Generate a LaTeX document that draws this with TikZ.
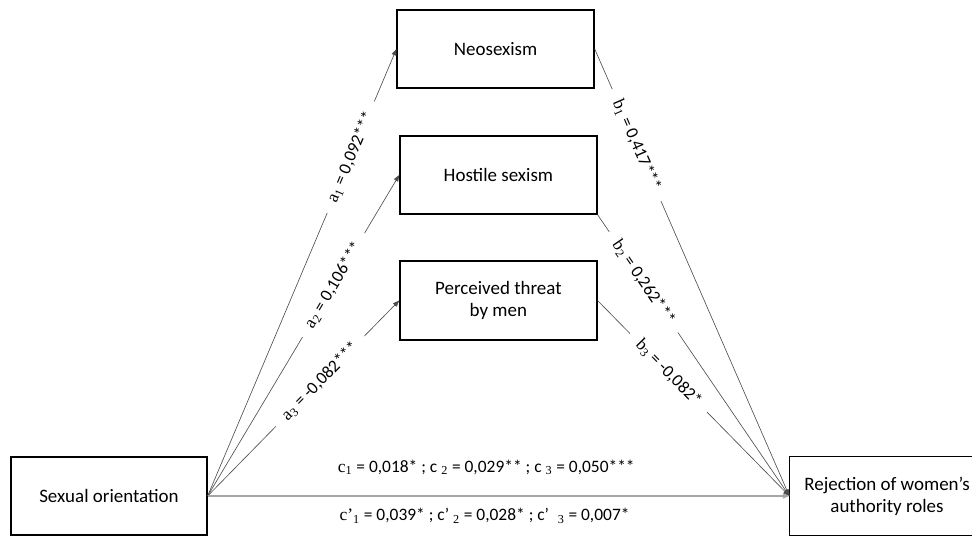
\documentclass[tikz,border=0pt]{standalone}
\usepackage{fontspec}
\setmainfont{Carlito}
\newfontfamily\tnr{Liberation Serif}
\usetikzlibrary{arrows.meta}
\definecolor{pathline}{HTML}{4D4D4D}
\definecolor{directline}{HTML}{A6A6A6}

\begin{document}
\begin{tikzpicture}[
    every node/.style={font=\fontsize{12.4}{14}\selectfont},
    varbox/.style={draw, line width=0.9pt, minimum width=4.925cm, minimum height=1.95cm,
      align=center, font=\fontsize{13.5}{15.6}\selectfont},
    pathArrow/.style={-{Triangle[length=0.16cm, width=0.12cm]}, draw=pathline, line width=0.45pt},
    coefLabel/.style={sloped, fill=white, inner xsep=0.3cm, inner ysep=0.04cm}
  ]
    \useasboundingbox (0,0) rectangle (24.3,13.4);
    \node[varbox] (neo) at (12.39, 12.175) {Neosexism};
    \node[varbox] (hos) at (12.46, 9.025) {Hostile sexism};
    \node[varbox, minimum height=1.975cm] (thr) at (12.46, 5.8875) {Perceived threat\\by men};
    \node[varbox, minimum width=4.9cm] (so) at (2.725, 1.0) {Sexual orientation};
    \node[varbox, draw=none, minimum width=4.85cm] (rej) at (22.175, 1.0) {Rejection of women’s\\authority roles};
    \draw[line width=0.9pt] ([xshift=6cm]rej.north west) -- (rej.north west)
      -- (rej.south west) -- ++(6cm,0);
    \draw[pathArrow] (so.east) -- (neo.west);
    \draw[pathArrow] (so.east) -- (hos.west);
    \draw[pathArrow] (so.east) -- (thr.west);
    \draw[pathArrow] (neo.east) -- (rej.west);
    \draw[pathArrow] (hos.south east) -- (rej.west);
    \draw[pathArrow] (thr.east) -- (rej.west);
    \draw[pathArrow, draw=directline, line width=0.9pt] (so.east) -- (rej.west);
    \path (so.east) -- (neo.west)
      node[coefLabel, pos=0.758] {{\tnr a\textsubscript{1}} = 0,092***};
    \path (so.east) -- (hos.west)
      node[coefLabel, pos=0.657] {{\tnr a\textsubscript{2}} = 0,106***};
    \path (so.east) -- (thr.west)
      node[coefLabel, pos=0.587] {{\tnr a\textsubscript{3}} = -0,082***};
    \path (neo.east) -- (rej.west)
      node[coefLabel, pos=0.215] {{\tnr b\textsubscript{1}} = 0,417***};
    \path (hos.south east) -- (rej.west)
      node[coefLabel, pos=0.24] {{\tnr b\textsubscript{2}} = 0,262***};
    \path (thr.east) -- (rej.west)
      node[coefLabel, pos=0.37] {{\tnr b\textsubscript{3}} = -0,082*};
    \path (so.east) -- (rej.west)
      node[pos=0.479, yshift=0.72cm] (ctot) {{\tnr c\textsubscript{1}} = 0,018* ; c {\tnr\textsubscript{2}} = 0,029** ; c {\tnr\textsubscript{3}} = 0,050***}
      node[pos=0.476, yshift=-0.5cm] (cdir) {{\tnr c’\textsubscript{1}} = 0,039* ; c’ {\tnr\textsubscript{2}} = 0,028* ; c’\enspace{\tnr\textsubscript{3}} = 0,007*};
  \end{tikzpicture}
\end{document}
